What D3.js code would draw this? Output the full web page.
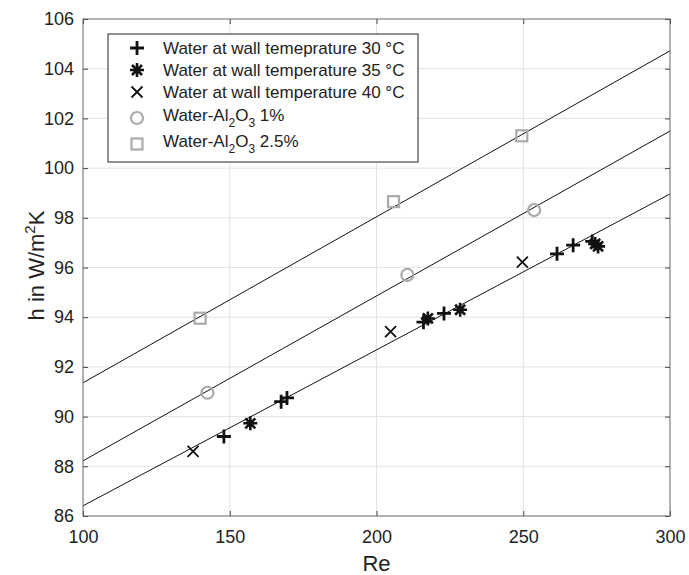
<!DOCTYPE html>
<html lang="en">
  <head>
    <meta charset="UTF-8" />
    <title>Heat transfer coefficient vs Re</title>
    <style>

      body {
        margin: 0;
        background: #fff;
      }

      text {
        font-family: "Liberation Sans", Arial, sans-serif;
        fill: #222;
      }

      .grid line {
        stroke: #e3e3e3;
        stroke-width: 1px;
      }

      .fit-line {
        fill: none;
        stroke: #111;
        stroke-width: 1px;
      }

      .frame {
        fill: none;
        stroke: #666;
        stroke-width: 1px;
      }

      .tick-label {
        font-size: 18px;
      }

    </style>
  </head>

  <body>

    <script src="https://cdn.jsdelivr.net/npm/d3@7"></script>
    <script>

      // Water at wall temperature 30 °C (plus)
      var re30 = [148, 167.5, 169.5, 216, 223, 261.5, 267, 273.5];
      var h30  = [89.2, 90.6, 90.75, 93.8, 94.15, 96.55, 96.9, 97.05];

      // Water at wall temperature 35 °C (asterisk)
      var re35 = [157, 217.5, 228.5, 274.5, 275.5];
      var h35  = [89.73, 93.95, 94.3, 96.95, 96.85];

      // Water at wall temperature 40 °C (x)
      var re40 = [137.5, 204.8, 249.7];
      var h40  = [88.6, 93.42, 96.22];

      // Water-Al2O3 1% (circle)
      var reAl1 = [142.4, 210.5, 253.7];
      var hAl1  = [90.96, 95.7, 98.31];

      // Water-Al2O3 2.5% (square)
      var reAl25 = [139.9, 205.8, 249.5];
      var hAl25  = [93.96, 98.65, 101.3];

      // Fitted lines: h at Re = 100 and at Re = 300
      var fitRe = [100, 300];
      var fitTop = [91.36, 104.72];
      var fitMid = [88.22, 101.49];
      var fitLow = [86.41, 98.96];

      // Ticks
      var xTicks = [100, 150, 200, 250, 300];
      var yTicks = [86, 88, 90, 92, 94, 96, 98, 100, 102, 104, 106];


      // SVG properties...

      var w = 689,
          h = 575;

      var margin = { top: 19, right: 19, bottom: 59, left: 83 };

      var iw = w - margin.left - margin.right,
          ih = h - margin.top - margin.bottom;

      var svg = d3.select("body").append("svg")
        .attr("width", w)
        .attr("height", h);

      var g = svg.append("g")
        .attr("transform", "translate(" + margin.left + "," + margin.top + ")");


      // Scales...

      var xScale = d3.scaleLinear().domain([100, 300]).range([0, iw]);
      var yScale = d3.scaleLinear().domain([86, 106]).range([ih, 0]);


      // Grid lines
      var grid = g.append("g").attr("class", "grid");

      grid.selectAll(".vx")
        .data(xTicks.slice(1, -1))
        .enter().append("line")
        .attr("x1", function(d) { return xScale(d); })
        .attr("x2", function(d) { return xScale(d); })
        .attr("y1", 0)
        .attr("y2", ih);

      grid.selectAll(".hy")
        .data(yTicks.slice(1, -1))
        .enter().append("line")
        .attr("x1", 0)
        .attr("x2", iw)
        .attr("y1", function(d) { return yScale(d); })
        .attr("y2", function(d) { return yScale(d); });


      // Fitted lines...

      var line = d3.line()
        .x(function(d) { return xScale(d[0]); })
        .y(function(d) { return yScale(d[1]); });

      [fitTop, fitMid, fitLow].forEach(function(fit) {
        g.append("path")
          .datum(d3.zip(fitRe, fit))
          .attr("class", "fit-line")
          .attr("d", line);
      });


      // Axes (inside ticks on all four sides, MATLAB style)...

      function styleAxis(sel) {
        sel.select(".domain").remove();
        sel.selectAll(".tick line").attr("stroke", "#444");
        sel.selectAll("text").attr("class", "tick-label").attr("fill", "#222");
      }

      g.append("g")
        .attr("transform", "translate(0," + ih + ")")
        .call(d3.axisBottom(xScale).tickValues(xTicks).tickSizeInner(-5).tickPadding(14))
        .call(styleAxis);

      g.append("g")
        .call(d3.axisTop(xScale).tickValues(xTicks).tickSizeInner(-5).tickFormat(""))
        .call(styleAxis);

      g.append("g")
        .call(d3.axisLeft(yScale).tickValues(yTicks).tickSizeInner(-5).tickPadding(9))
        .call(styleAxis);

      g.append("g")
        .attr("transform", "translate(" + iw + ",0)")
        .call(d3.axisRight(yScale).tickValues(yTicks).tickSizeInner(-5).tickFormat(""))
        .call(styleAxis);

      g.append("rect")
        .attr("class", "frame")
        .attr("x", 0)
        .attr("y", 0)
        .attr("width", iw)
        .attr("height", ih);


      // Axis titles
      svg.append("text")
        .attr("x", margin.left + iw / 2)
        .attr("y", 571)
        .attr("text-anchor", "middle")
        .style("font-size", "22px")
        .text("Re");

      var yTitle = svg.append("text")
        .attr("transform", "translate(36," + (margin.top + ih / 2 - 2) + ") rotate(-90)")
        .attr("text-anchor", "middle")
        .attr("dy", "0.35em")
        .style("font-size", "22px");
      yTitle.append("tspan").text("h in W/m");
      yTitle.append("tspan").attr("dy", -9).style("font-size", "15px").text("2");
      yTitle.append("tspan").attr("dy", 9).text("K");


      // Markers...

      var s = 7;
      var plusPath = "M" + (-s) + ",0H" + s + "M0," + (-s) + "V" + s;
      var xPath = "M-5.5,-5.5L5.5,5.5M-5.5,5.5L5.5,-5.5";
      var starPath = plusPath + "M-5,-5L5,5M-5,5L5,-5";

      function drawPath(sel, pathD, width) {
        sel.append("path")
          .attr("d", pathD)
          .attr("fill", "none")
          .attr("stroke", "#111")
          .attr("stroke-width", width);
      }

      function drawCircle(sel) {
        sel.append("circle")
          .attr("r", 6)
          .attr("fill", "none")
          .attr("stroke", "#aaa")
          .attr("stroke-width", 2.2);
      }

      function drawSquare(sel) {
        sel.append("rect")
          .attr("x", -5.5)
          .attr("y", -5.5)
          .attr("width", 11)
          .attr("height", 11)
          .attr("fill", "none")
          .attr("stroke", "#aaa")
          .attr("stroke-width", 2.2);
      }

      function plotSeries(res, hs, draw) {
        g.selectAll(null)
          .data(d3.zip(res, hs))
          .enter().append("g")
          .attr("transform", function(d) {
            return "translate(" + xScale(d[0]) + "," + yScale(d[1]) + ")";
          })
          .each(function() { draw(d3.select(this)); });
      }

      plotSeries(reAl25, hAl25, drawSquare);
      plotSeries(reAl1, hAl1, drawCircle);
      plotSeries(re40, h40, function(sel) { drawPath(sel, xPath, 1.8); });
      plotSeries(re35, h35, function(sel) { drawPath(sel, starPath, 2.6); });
      plotSeries(re30, h30, function(sel) { drawPath(sel, plusPath, 2.8); });


      // Legend...

      var legend = svg.append("g").attr("transform", "translate(108,34)");

      legend.append("rect")
        .attr("width", 310)
        .attr("height", 128)
        .attr("fill", "#fff")
        .attr("stroke", "#222")
        .attr("stroke-width", 1);

      var legendRows = [
        { y: 14, draw: function(sel) { drawPath(sel, plusPath, 2.8); }, text: "Water at wall temeprature 30 °C" },
        { y: 36, draw: function(sel) { drawPath(sel, starPath, 2.6); }, text: "Water at wall temperature 35 °C" },
        { y: 58, draw: function(sel) { drawPath(sel, xPath, 1.8); }, text: "Water at wall temperature 40 °C" },
        { y: 84, draw: drawCircle, text: "1%" },
        { y: 110, draw: drawSquare, text: "2.5%" }
      ];

      legendRows.forEach(function(row, i) {
        var item = legend.append("g").attr("transform", "translate(29," + row.y + ")");
        row.draw(item);

        var label = legend.append("text")
          .attr("x", 55)
          .attr("y", row.y - (i > 2 ? 3 : 0))
          .attr("dy", "0.35em")
          .style("font-size", "17px");

        if (i < 3) {
          label.text(row.text);
        } else {
          label.append("tspan").text("Water-Al");
          label.append("tspan").attr("dy", 6).style("font-size", "12px").text("2");
          label.append("tspan").attr("dy", -6).text("O");
          label.append("tspan").attr("dy", 6).style("font-size", "12px").text("3");
          label.append("tspan").attr("dy", -6).text(" " + row.text);
        }
      });

    </script>
  </body>
</html>
